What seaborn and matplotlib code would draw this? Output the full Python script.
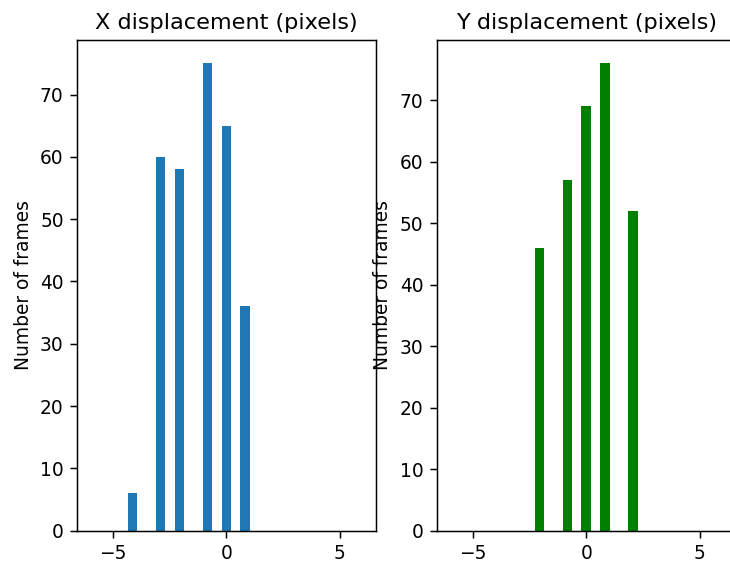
import numpy as np
import pandas as pd
import matplotlib
matplotlib.use("Agg")
import matplotlib.pyplot as plt
import seaborn as sns

# Displacement values (pixels) and number of frames for each
x_shift = [-4, -3, -2, -1, 0, 1]
x_frames = [6, 60, 58, 75, 65, 36]

y_shift = [-2, -1, 0, 1, 2]
y_frames = [46, 57, 69, 76, 52]

xticks = [-5, 0, 5]

df_x = pd.DataFrame({"shift": x_shift, "frames": x_frames})
df_y = pd.DataFrame({"shift": y_shift, "frames": y_frames})

DPI = 134
fig = plt.figure(figsize=(730 / DPI, 564 / DPI), dpi=DPI)
ax1 = fig.add_axes([0.1051, 0.059, 0.41, 0.870])
ax2 = fig.add_axes([0.598, 0.059, 0.41, 0.870])

# X displacement histogram
sns.histplot(data=df_x, x="shift", weights="frames", bins=29, binrange=(-6, 6),
             ax=ax1, color="#1f77b4", alpha=1, linewidth=0)
ax1.set_title("X displacement (pixels)", fontsize=12)
ax1.set_xlabel("")
ax1.set_ylabel("Number of frames")
ax1.set_xlim(-6.6, 6.6)
ax1.set_ylim(0, 75 * 1.05)
ax1.set_xticks(xticks)

# Y displacement histogram
sns.histplot(data=df_y, x="shift", weights="frames", bins=29, binrange=(-6, 6),
             ax=ax2, color="green", alpha=1, linewidth=0)
ax2.set_title("Y displacement (pixels)", fontsize=12)
ax2.set_xlabel("")
ax2.set_ylabel("Number of frames")
ax2.set_xlim(-6.6, 6.6)
ax2.set_ylim(0, 76 * 1.05)
ax2.set_xticks(xticks)

plt.savefig("out.png", dpi=DPI)
plt.close()
